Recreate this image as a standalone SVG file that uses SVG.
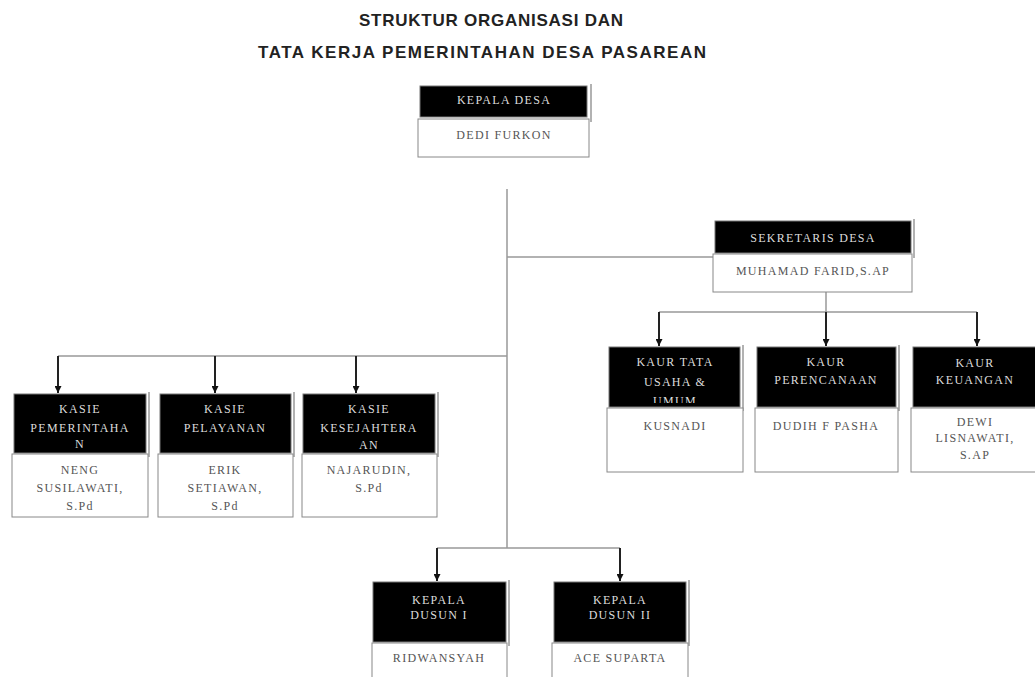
<svg xmlns="http://www.w3.org/2000/svg" width="1035" height="677" viewBox="0 0 1035 677">
<defs>
<marker id="arr" markerUnits="userSpaceOnUse" markerWidth="8" markerHeight="7" refX="7" refY="3.5" orient="auto">
<path d="M0,0 L7,3.5 L0,7 Z" fill="#111"/>
</marker>
<clipPath id="clipTU"><rect x="609" y="347" width="131" height="56"/></clipPath>
</defs>
<style>
.title{font-family:"Liberation Sans",Arial,sans-serif;font-weight:bold;font-size:17px;fill:#222;}
.blk{fill:#000;stroke:#777;stroke-width:1;}
.wht{fill:#fff;stroke:#888;stroke-width:1;}
.shd{stroke:#999;stroke-width:1.5;}
.tb{font-family:"Liberation Serif","Times New Roman",serif;font-size:12px;letter-spacing:1.3px;fill:#ddd;text-anchor:middle;}
.tw{font-family:"Liberation Serif","Times New Roman",serif;font-size:12px;letter-spacing:1.3px;fill:#555;text-anchor:middle;}
.ln{stroke:#999;stroke-width:1.5;fill:none;}
.ar{stroke:#222;stroke-width:2;fill:none;marker-end:url(#arr);}
</style>
<rect width="1035" height="677" fill="#fff"/>
<text class="title" x="491" y="26" text-anchor="middle" textLength="264" lengthAdjust="spacing">STRUKTUR ORGANISASI DAN</text>
<text class="title" x="482" y="58" text-anchor="middle" textLength="448" lengthAdjust="spacing">TATA KERJA PEMERINTAHAN DESA PASAREAN</text>

<g id="connectors">
<line class="ln" x1="507" y1="189" x2="507" y2="548"/>
<line class="ln" x1="507" y1="257" x2="713" y2="257"/>
<line class="ln" x1="58" y1="356" x2="507" y2="356"/>
<line class="ar" x1="58" y1="356" x2="58" y2="393"/>
<line class="ar" x1="215" y1="356" x2="215" y2="393"/>
<line class="ar" x1="356" y1="356" x2="356" y2="393"/>
<line class="ln" x1="826" y1="292" x2="826" y2="312"/>
<line class="ln" x1="659" y1="312" x2="977" y2="312"/>
<line class="ar" x1="659" y1="312" x2="659" y2="346"/>
<line class="ar" x1="826" y1="312" x2="826" y2="346"/>
<line class="ar" x1="977" y1="312" x2="977" y2="346"/>
<line class="ln" x1="437" y1="548" x2="620" y2="548"/>
<line class="ar" x1="437" y1="548" x2="437" y2="581"/>
<line class="ar" x1="620" y1="548" x2="620" y2="581"/>
</g>

<g id="kepala-desa">
<line class="shd" x1="591" y1="84" x2="591" y2="122"/>
<rect class="blk" x="420" y="86" width="167" height="31"/>
<rect class="wht" x="418" y="119" width="171" height="38"/>
<text class="tb" x="504" y="104">KEPALA DESA</text>
<text class="tw" x="504" y="139">DEDI FURKON</text>
</g>

<g id="sekretaris-desa">
<line class="shd" x1="914" y1="219" x2="914" y2="258"/>
<rect class="blk" x="715" y="221" width="196" height="32"/>
<rect class="wht" x="713" y="254" width="199" height="38"/>
<text class="tb" x="813" y="242">SEKRETARIS DESA</text>
<text class="tw" x="813" y="275">MUHAMAD FARID,S.AP</text>
</g>

<g id="kasie-pemerintahan">
<line class="shd" x1="149" y1="392" x2="149" y2="457"/>
<rect class="blk" x="14" y="394" width="132" height="59"/>
<rect class="wht" x="12" y="454" width="136" height="63"/>
<text class="tb" x="80" y="413">KASIE</text>
<text class="tb" x="80" y="432">PEMERINTAHA</text>
<text class="tb" x="80" y="448">N</text>
<text class="tw" x="80" y="474">NENG</text>
<text class="tw" x="80" y="492">SUSILAWATI,</text>
<text class="tw" x="80" y="510">S.Pd</text>
</g>

<g id="kasie-pelayanan">
<line class="shd" x1="294" y1="392" x2="294" y2="457"/>
<rect class="blk" x="160" y="394" width="131" height="59"/>
<rect class="wht" x="158" y="454" width="135" height="63"/>
<text class="tb" x="225" y="413">KASIE</text>
<text class="tb" x="225" y="432">PELAYANAN</text>
<text class="tw" x="225" y="474">ERIK</text>
<text class="tw" x="225" y="492">SETIAWAN,</text>
<text class="tw" x="225" y="510">S.Pd</text>
</g>

<g id="kasie-kesejahteraan">
<line class="shd" x1="438" y1="392" x2="438" y2="457"/>
<rect class="blk" x="303" y="394" width="132" height="59"/>
<rect class="wht" x="302" y="454" width="135" height="63"/>
<text class="tb" x="369" y="413">KASIE</text>
<text class="tb" x="369" y="432">KESEJAHTERA</text>
<text class="tb" x="369" y="449">AN</text>
<text class="tw" x="369" y="474">NAJARUDIN,</text>
<text class="tw" x="369" y="492">S.Pd</text>
</g>

<g id="kaur-tata-usaha">
<line class="shd" x1="743" y1="345" x2="743" y2="411"/>
<rect class="blk" x="609" y="347" width="131" height="60"/>
<rect class="wht" x="607" y="408" width="136" height="64"/>
<text class="tb" x="675" y="366">KAUR TATA</text>
<text class="tb" x="675" y="386">USAHA &amp;</text>
<text class="tb" x="675" y="405" clip-path="url(#clipTU)">UMUM</text>
<text class="tw" x="675" y="430">KUSNADI</text>
</g>

<g id="kaur-perencanaan">
<line class="shd" x1="899" y1="345" x2="899" y2="411"/>
<rect class="blk" x="757" y="347" width="139" height="60"/>
<rect class="wht" x="755" y="408" width="143" height="64"/>
<text class="tb" x="826" y="366">KAUR</text>
<text class="tb" x="826" y="384">PERENCANAAN</text>
<text class="tw" x="826" y="430">DUDIH F PASHA</text>
</g>

<g id="kaur-keuangan">
<rect class="blk" x="913" y="347" width="126" height="60"/>
<rect class="wht" x="911" y="408" width="130" height="64"/>
<text class="tb" x="975" y="367">KAUR</text>
<text class="tb" x="975" y="384">KEUANGAN</text>
<text class="tw" x="975" y="426">DEWI</text>
<text class="tw" x="975" y="442">LISNAWATI,</text>
<text class="tw" x="975" y="459">S.AP</text>
</g>

<g id="kepala-dusun-1">
<line class="shd" x1="509" y1="580" x2="509" y2="646"/>
<rect class="blk" x="373" y="582" width="133" height="60"/>
<rect class="wht" x="372" y="643" width="135" height="40"/>
<text class="tb" x="439" y="604">KEPALA</text>
<text class="tb" x="439" y="619">DUSUN I</text>
<text class="tw" x="439" y="662">RIDWANSYAH</text>
</g>

<g id="kepala-dusun-2">
<line class="shd" x1="689" y1="580" x2="689" y2="646"/>
<rect class="blk" x="554" y="582" width="132" height="60"/>
<rect class="wht" x="552" y="643" width="136" height="40"/>
<text class="tb" x="620" y="604">KEPALA</text>
<text class="tb" x="620" y="619">DUSUN II</text>
<text class="tw" x="620" y="662">ACE SUPARTA</text>
</g>
</svg>
